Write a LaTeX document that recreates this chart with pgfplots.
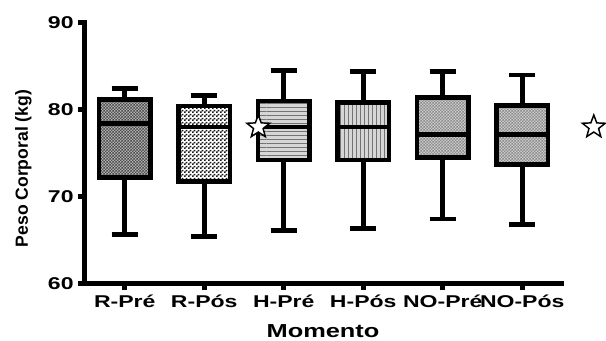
\documentclass[border=0pt]{standalone}
\usepackage{fontspec}
\setmainfont{Liberation Sans}
\newfontfamily\wideb[FakeStretch=1.35]{Liberation Sans Bold}
\usepackage{pgfplots}
\pgfplotsset{compat=1.18}
\usepgfplotslibrary{statistics}
\usetikzlibrary{patterns}

\pgfdeclarepatternformonly{finecheck}{\pgfpointorigin}{\pgfqpoint{2.2pt}{2.2pt}}{\pgfqpoint{2.2pt}{2.2pt}}{%
  \pgfpathrectangle{\pgfpointorigin}{\pgfqpoint{1.1pt}{1.1pt}}%
  \pgfpathrectangle{\pgfqpoint{1.1pt}{1.1pt}}{\pgfqpoint{1.1pt}{1.1pt}}%
  \pgfusepath{fill}}
\pgfdeclarepatternformonly{medcheck}{\pgfpointorigin}{\pgfqpoint{3pt}{3pt}}{\pgfqpoint{3pt}{3pt}}{%
  \pgfpathrectangle{\pgfpointorigin}{\pgfqpoint{1.5pt}{1.5pt}}%
  \pgfpathrectangle{\pgfqpoint{1.5pt}{1.5pt}}{\pgfqpoint{1.5pt}{1.5pt}}%
  \pgfusepath{fill}}

\pgfdeclareplotmark{ostar}{%
  \pgfpathmoveto{\pgfpointpolar{90}{\pgfplotmarksize}}%
  \pgfpathlineto{\pgfpointpolar{126}{0.42\pgfplotmarksize}}%
  \pgfpathlineto{\pgfpointpolar{162}{\pgfplotmarksize}}%
  \pgfpathlineto{\pgfpointpolar{198}{0.42\pgfplotmarksize}}%
  \pgfpathlineto{\pgfpointpolar{234}{\pgfplotmarksize}}%
  \pgfpathlineto{\pgfpointpolar{270}{0.42\pgfplotmarksize}}%
  \pgfpathlineto{\pgfpointpolar{306}{\pgfplotmarksize}}%
  \pgfpathlineto{\pgfpointpolar{342}{0.42\pgfplotmarksize}}%
  \pgfpathlineto{\pgfpointpolar{18}{\pgfplotmarksize}}%
  \pgfpathlineto{\pgfpointpolar{54}{0.42\pgfplotmarksize}}%
  \pgfpathclose
  \pgfusepathqfillstroke}

\begin{document}
\begin{tikzpicture}
\useasboundingbox (-63.75pt,-42.5pt) rectangle (390.75pt,212.5pt);
\begin{axis}[
  scale only axis, width=357.75pt, height=195.45pt,
  xmin=0.5, xmax=6.5, ymin=60, ymax=90,
  ytick={60,70,80,90}, xtick={1,2,3,4,5,6},
  xticklabels={R-Pré,R-Pós,H-Pré,H-Pós,NO-Pré,NO-Pós},
  axis lines=left,
  axis line style={-, line width=3.75pt, line cap=rect},
  tick align=outside, major tick length=5pt,
  every tick/.style={black, line width=3.5pt},
  ticklabel style={font=\wideb\fontsize{12.8}{14}\selectfont},
  /pgf/number format/assume math mode=true,
  clip=false,
  boxplot/draw direction=y,
  boxplot/box extend=0.65,
  boxplot/whisker extend=0.33,
  ylabel={Peso Corporal (kg)},
  ylabel style={font=\bfseries\fontsize{13.2}{15}\selectfont, anchor=center, at={(axis description cs:-0.129,0.4405)}},
  xlabel={Momento},
  xlabel style={font=\wideb\fontsize{14.1}{16}\selectfont, anchor=base, at={(axis description cs:0.499,-0.206)}},
  every axis plot/.append style={draw=black, line width=3.5pt, line join=miter},
]
% R-Pre
\addplot[boxplot prepared={draw position=1, lower whisker=65.6, lower quartile=72.2, median=78.4, upper quartile=81.2, upper whisker=82.4},
  fill=black!30] coordinates {};
\addplot[boxplot prepared={draw position=1, lower whisker=65.6, lower quartile=72.2, median=78.4, upper quartile=81.2, upper whisker=82.4},
  pattern=finecheck, pattern color=black!70] coordinates {};
% R-Pos
\addplot[boxplot prepared={draw position=2, lower whisker=65.4, lower quartile=71.7, median=78.0, upper quartile=80.4, upper whisker=81.6},
  fill=white] coordinates {};
\addplot[boxplot prepared={draw position=2, lower whisker=65.4, lower quartile=71.7, median=78.0, upper quartile=80.4, upper whisker=81.6},
  pattern=medcheck, pattern color=black!90] coordinates {};
% H-Pre
\addplot[boxplot prepared={draw position=3, lower whisker=66.1, lower quartile=74.2, median=78.0, upper quartile=81.0, upper whisker=84.5},
  fill=black!16] coordinates {};
\addplot[boxplot prepared={draw position=3, lower whisker=66.1, lower quartile=74.2, median=78.0, upper quartile=81.0, upper whisker=84.5},
  pattern=horizontal lines, pattern color=black!55] coordinates {};
% H-Pos
\addplot[boxplot prepared={draw position=4, lower whisker=66.3, lower quartile=74.2, median=78.0, upper quartile=80.8, upper whisker=84.4},
  fill=black!16] coordinates {};
\addplot[boxplot prepared={draw position=4, lower whisker=66.3, lower quartile=74.2, median=78.0, upper quartile=80.8, upper whisker=84.4},
  pattern=vertical lines, pattern color=black!55] coordinates {};
% NO-Pre
\addplot[boxplot prepared={draw position=5, lower whisker=67.4, lower quartile=74.5, median=77.1, upper quartile=81.4, upper whisker=84.4},
  fill=black!20] coordinates {};
\addplot[boxplot prepared={draw position=5, lower whisker=67.4, lower quartile=74.5, median=77.1, upper quartile=81.4, upper whisker=84.4},
  pattern=finecheck, pattern color=black!45] coordinates {};
% NO-Pos
\addplot[boxplot prepared={draw position=6, lower whisker=66.8, lower quartile=73.7, median=77.1, upper quartile=80.5, upper whisker=84.0},
  fill=black!20] coordinates {};
\addplot[boxplot prepared={draw position=6, lower whisker=66.8, lower quartile=73.7, median=77.1, upper quartile=80.5, upper whisker=84.0},
  pattern=finecheck, pattern color=black!45] coordinates {};
% stars
\addplot[only marks, mark=ostar, mark size=9pt, draw=black, fill=white,
  mark options={solid, line width=1.1pt, fill=white}] coordinates {(2.68,78.0) (6.90,78.0)};
\end{axis}
\end{tikzpicture}
\end{document}
